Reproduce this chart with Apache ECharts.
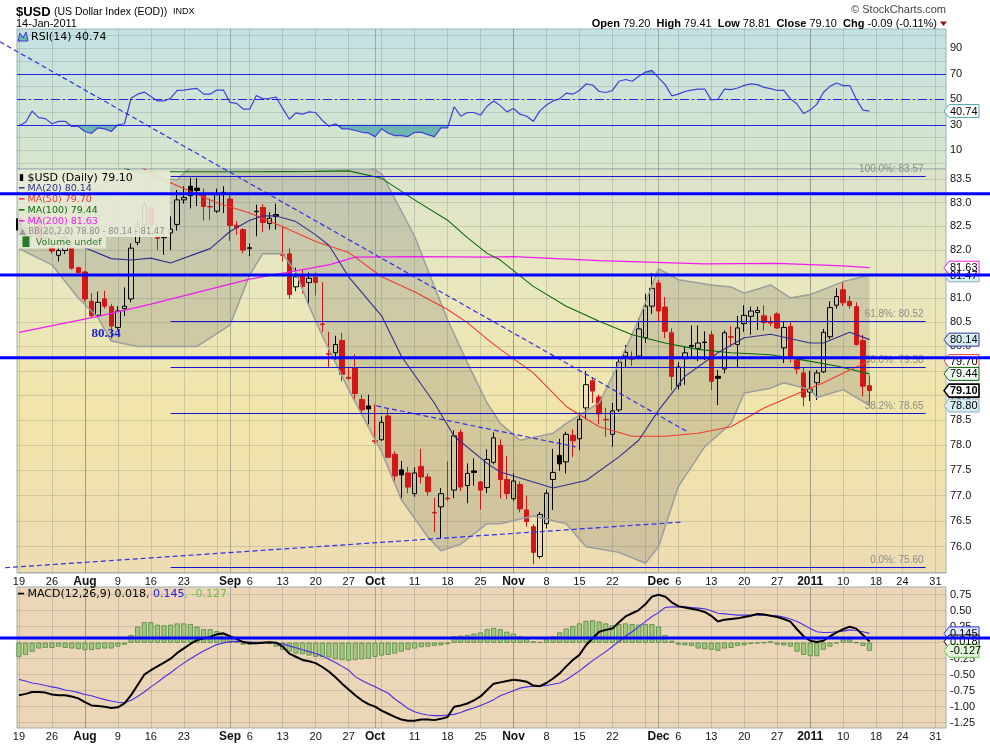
<!DOCTYPE html>
<html>
<head>
<meta charset="utf-8">
<title>$USD US Dollar Index</title>
<script src="https://cdn.jsdelivr.net/npm/echarts@6.0.0/dist/echarts.min.js"></script>
<style>
html, body { margin: 0; padding: 0; background: #ffffff; }
#chart { width: 990px; height: 744px; }
</style>
</head>
<body>
<div id="chart"></div>
<script>
// trading calendar (weekdays, the MLK holiday is skipped in the projected area)
var holidays = ['2011-01-17'];
var days = [];
(function () {
    var d = new Date(Date.UTC(2010, 6, 19));
    while (days.length < 142) {
        var s = d.toISOString().slice(0, 10);
        var wd = d.getUTCDay();
        if (wd !== 0 && wd !== 6 && holidays.indexOf(s) < 0) {
            days.push(s);
        }
        d.setUTCDate(d.getUTCDate() + 1);
    }
})();

var tickDates = ['2010-07-19', '2010-07-26', '2010-08-02', '2010-08-09', '2010-08-16', '2010-08-23',
    '2010-09-01', '2010-09-06', '2010-09-13', '2010-09-20', '2010-09-27', '2010-10-01', '2010-10-11',
    '2010-10-18', '2010-10-25', '2010-11-01', '2010-11-08', '2010-11-15', '2010-11-22', '2010-12-01',
    '2010-12-06', '2010-12-13', '2010-12-20', '2010-12-27', '2011-01-03', '2011-01-10', '2011-01-18',
    '2011-01-24', '2011-01-31'];
var tickText = ['19', '26', 'Aug', '9', '16', '23', 'Sep', '6', '13', '20', '27', 'Oct', '11', '18', '25',
    'Nov', '8', '15', '22', 'Dec', '6', '13', '20', '27', '2011', '10', '18', '24', '31'];
var monthDates = ['2010-08-02', '2010-09-01', '2010-10-01', '2010-11-01', '2010-12-01', '2011-01-03'];

var priceGridTicks = [75.5, 76.0, 76.5, 77.0, 77.5, 78.0, 78.5, 79.0, 79.5, 80.0, 80.5, 81.0, 81.5, 82.0, 82.5, 83.0, 83.5];
var priceLabelTicks = [76.0, 76.5, 77.0, 77.5, 78.0, 78.5, 79.0, 79.5, 80.0, 80.5, 81.0, 81.5, 82.0, 82.5, 83.0, 83.5];
var rsiGridTicks = [0, 10, 20, 30, 40, 50, 60, 70, 80, 90, 100];
var rsiLabelTicks = [10, 30, 50, 70, 90];
var macdTicks = [-1.25, -1.0, -0.75, -0.5, -0.25, 0, 0.25, 0.5, 0.75];

// daily OHLC, 19-Jul-2010 .. 14-Jan-2011
var opens = [82.66, 82.42, 82.30, 82.72, 82.25, 82.06, 81.89, 81.99, 82.06, 81.63,
    81.54, 80.93, 80.64, 80.98, 80.82, 80.39, 80.78, 80.98, 82.16, 82.53,
    82.89, 82.26, 82.26, 82.36, 82.54, 83.06, 83.35, 83.31, 83.20, 82.92,
    82.82, 83.20, 83.08, 82.52, 82.43, 82.03, 82.81, 82.90, 82.56, 82.75,
    81.91, 81.92, 81.23, 81.47, 81.32, 81.43, 80.46, 79.85, 79.87, 80.12,
    79.37, 79.56, 78.92, 78.79, 78.09, 78.11, 78.59, 77.82, 77.51, 77.45,
    77.04, 77.58, 77.37, 76.67, 76.78, 76.95, 77.11, 78.26, 77.20, 77.49,
    77.27, 77.16, 77.66, 78.00, 77.32, 76.94, 77.22, 76.72, 76.39, 75.81,
    76.45, 77.32, 77.80, 77.67, 78.20, 78.13, 78.75, 79.30, 78.97, 78.52,
    78.22, 78.71, 79.80, 79.75, 79.80, 80.18, 80.83, 81.31, 80.81, 80.28,
    79.20, 79.75, 80.02, 79.96, 80.09, 80.24, 79.39, 79.54, 80.20, 80.04,
    80.47, 80.62, 80.70, 80.63, 80.51, 80.67, 79.97, 80.41, 79.72, 79.46,
    79.07, 79.26, 79.48, 80.20, 80.85, 81.17, 80.93, 80.82, 80.12, 79.20];
var highs = [82.90, 82.55, 82.85, 82.78, 82.50, 82.39, 82.14, 82.41, 82.14, 81.65,
    81.56, 81.10, 81.13, 81.15, 80.88, 80.83, 81.22, 82.14, 82.64, 83.03,
    82.98, 82.29, 82.36, 82.71, 83.27, 83.35, 83.53, 83.53, 83.30, 83.09,
    83.30, 83.35, 83.20, 82.61, 82.46, 82.14, 82.96, 82.97, 82.80, 82.98,
    82.49, 82.04, 81.63, 81.60, 81.53, 81.53, 81.33, 80.30, 80.22, 80.28,
    79.59, 79.84, 79.02, 79.02, 78.82, 78.58, 78.72, 77.88, 77.69, 77.57,
    77.56, 77.93, 77.44, 76.96, 77.15, 77.68, 78.30, 78.32, 77.64, 77.74,
    77.29, 77.92, 78.26, 78.12, 77.79, 77.44, 77.28, 77.00, 76.44, 76.68,
    77.12, 77.93, 78.13, 78.27, 78.32, 78.66, 79.50, 79.37, 79.02, 78.75,
    78.85, 79.78, 80.03, 79.90, 80.58, 81.09, 81.52, 81.37, 81.02, 80.37,
    79.68, 80.01, 80.43, 80.43, 80.31, 80.32, 79.52, 80.33, 80.42, 80.63,
    80.85, 80.82, 80.82, 80.85, 80.62, 80.70, 80.50, 80.50, 79.77, 79.58,
    79.50, 79.52, 80.36, 80.93, 81.20, 81.33, 81.04, 80.91, 80.24, 79.41];
var lows = [82.30, 82.15, 82.22, 82.15, 82.10, 81.92, 81.76, 81.92, 81.59, 81.51,
    80.92, 80.60, 80.60, 80.78, 80.16, 80.35, 80.63, 80.91, 82.10, 82.36,
    82.45, 82.00, 81.90, 82.00, 82.41, 82.98, 82.88, 82.93, 82.62, 82.63,
    82.78, 82.78, 82.19, 82.32, 81.93, 81.87, 82.29, 82.38, 82.43, 82.43,
    81.76, 80.98, 81.14, 81.09, 80.87, 81.05, 80.29, 79.58, 79.73, 79.29,
    79.31, 78.90, 78.62, 78.42, 78.03, 78.09, 77.75, 77.29, 76.95, 77.05,
    76.98, 77.24, 77.00, 76.28, 76.16, 76.90, 76.95, 77.09, 76.85, 77.20,
    76.72, 77.05, 77.62, 76.95, 76.93, 76.90, 76.67, 76.39, 75.66, 75.77,
    76.36, 76.72, 77.49, 77.44, 77.77, 77.90, 78.52, 78.85, 78.42, 78.17,
    77.97, 78.67, 79.57, 79.60, 79.74, 80.07, 80.67, 80.52, 80.17, 79.10,
    79.12, 79.22, 79.76, 79.70, 79.72, 79.11, 78.81, 79.45, 80.00, 79.56,
    80.30, 80.24, 80.34, 80.33, 80.42, 80.36, 79.66, 79.67, 79.43, 78.78,
    78.89, 78.91, 79.46, 80.15, 80.78, 80.83, 80.78, 80.02, 78.98, 78.81];
var closes = [82.42, 82.30, 82.72, 82.25, 82.40, 81.98, 81.99, 82.26, 81.62, 81.53,
    80.98, 80.63, 80.91, 80.83, 80.42, 80.73, 80.83, 82.04, 82.51, 82.96,
    82.53, 82.25, 82.27, 82.44, 83.06, 83.11, 83.15, 83.26, 82.92, 82.91,
    83.17, 83.22, 82.52, 82.47, 82.00, 82.05, 82.82, 82.58, 82.67, 82.71,
    81.89, 81.07, 81.44, 81.24, 81.41, 81.32, 80.45, 79.84, 80.04, 79.43,
    79.35, 79.04, 78.71, 78.73, 78.08, 78.46, 77.76, 77.39, 77.41, 77.17,
    77.45, 77.37, 77.08, 76.66, 77.04, 76.94, 78.19, 77.17, 77.44, 77.46,
    77.11, 77.72, 78.15, 77.32, 77.04, 77.29, 76.74, 76.49, 75.89, 76.63,
    77.05, 77.46, 77.63, 78.22, 78.09, 78.52, 79.22, 79.09, 78.63, 78.51,
    78.69, 79.68, 79.88, 79.74, 80.36, 80.83, 81.20, 80.73, 80.31, 79.39,
    79.58, 79.87, 80.00, 80.07, 80.08, 79.29, 79.35, 80.28, 80.19, 80.38,
    80.64, 80.73, 80.74, 80.49, 80.48, 80.38, 80.39, 79.77, 79.54, 78.97,
    79.13, 79.46, 80.29, 80.80, 81.03, 80.90, 80.84, 80.04, 79.19, 79.10];

// overlays as [day index, value]
var ma20 = [[0, 82.50], [5, 82.35], [10, 82.05], [14, 81.82], [17, 81.79], [20, 81.83], [23, 81.73], [27, 81.93],
    [29, 82.03], [32, 82.39], [35, 82.63], [37, 82.72], [39, 82.72], [42, 82.60], [45, 82.32], [47, 82.10],
    [50, 81.44], [55, 80.63], [58, 79.80], [63, 78.85], [66, 78.18], [71, 77.64], [73, 77.47], [81, 77.15],
    [86, 77.30], [91, 77.77], [94, 78.10], [97, 78.70], [101, 79.39], [106, 79.87], [110, 80.18], [114, 80.25],
    [120, 80.07], [122, 80.07], [126, 80.29], [129, 80.14]];
var ma50 = [[0, 85.30], [10, 84.60], [19, 83.72], [21, 83.55], [27, 83.18], [30, 83.00], [35, 82.78], [40, 82.49],
    [45, 82.18], [50, 81.95], [55, 81.44], [60, 81.13], [65, 80.76], [68, 80.49], [71, 80.15], [73, 79.94],
    [78, 79.46], [83, 78.78], [88, 78.37], [93, 78.18], [98, 78.18], [103, 78.24], [108, 78.37], [113, 78.75],
    [119, 79.09], [122, 79.26], [126, 79.52], [129, 79.70]];
var ma100 = [[0, 84.60], [8, 84.10], [15, 83.80], [17, 83.68], [24, 83.66], [35, 83.66], [45, 83.67], [50, 83.68],
    [55, 83.52], [60, 83.06], [65, 82.63], [68, 82.26], [71, 81.93], [73, 81.79], [78, 81.24], [83, 80.83],
    [88, 80.52], [93, 80.24], [98, 80.07], [103, 79.94], [108, 79.87], [114, 79.83], [119, 79.72], [124, 79.60],
    [129, 79.44]];
var ma200 = [[0, 80.29], [12, 80.62], [20, 80.87], [35, 81.39], [47, 81.69], [51, 81.85], [60, 81.86], [71, 81.85],
    [75, 81.86], [88, 81.78], [104, 81.71], [115, 81.72], [125, 81.67], [129, 81.63]];
var bbUpper = [[0, 82.98], [5, 83.03], [10, 83.18], [14, 83.48], [18, 83.61], [20, 83.69], [22, 83.51], [24, 83.49],
    [27, 83.90], [32, 84.30], [36, 83.78], [40, 83.80], [44, 83.85], [48, 83.90], [52, 83.85], [55, 83.62],
    [60, 82.29], [63, 81.24], [65, 80.55], [68, 79.67], [71, 78.85], [73, 78.44], [76, 78.10], [81, 78.24],
    [83, 78.44], [88, 78.85], [91, 79.66], [94, 80.55], [97, 81.61], [100, 81.38], [105, 81.27], [108, 81.23],
    [110, 81.10], [114, 81.27], [117, 81.00], [120, 81.07], [125, 81.34], [129, 81.47]];
var bbLower = [[0, 82.03], [5, 81.69], [9, 81.00], [12, 80.59], [14, 80.11], [18, 80.00], [27, 80.00], [32, 80.44],
    [35, 81.48], [37, 81.93], [40, 81.92], [42, 81.53], [44, 80.83], [46, 80.22], [50, 79.12], [55, 77.87],
    [58, 76.92], [62, 76.19], [64, 75.92], [67, 76.05], [71, 76.45], [73, 76.45], [78, 76.60], [83, 76.45],
    [86, 76.00], [91, 75.89], [95, 75.68], [97, 76.00], [100, 77.18], [104, 77.97], [108, 78.44], [110, 79.05],
    [114, 79.15], [116, 79.26], [120, 79.12], [121, 78.96], [125, 79.12], [129, 78.80]];

var rsi = [29.2, 32, 40.7, 35.6, 34.8, 30.8, 32.7, 32.7, 28.7, 28.7,
    24.7, 23.3, 27.6, 26.8, 24.7, 30, 30.8, 50.8, 54, 55.6,
    52.1, 48.7, 48.7, 50.8, 56.9, 57.2, 58, 58.5, 54, 54,
    57.2, 57.2, 47.6, 46.8, 42.3, 42.3, 52.9, 50.3, 50.8, 51.6,
    42.8, 34.3, 39.3, 38.3, 40.1, 39.6, 33.5, 28.7, 30.8, 26.8,
    26.8, 25.5, 24.1, 23.6, 20.7, 26.8, 23.3, 21.5, 21.5, 20.7,
    24.1, 24.1, 22.3, 20.7, 27.6, 27.6, 44.1, 36.7, 39.6, 39.6,
    37.5, 44.7, 48.7, 45, 40.1, 42.8, 38.3, 36.7, 32.7, 40.9,
    45.5, 48.7, 50.3, 54.8, 54, 56.9, 62, 61.2, 56.1, 55.3,
    56.9, 64.1, 65.5, 64.1, 68.1, 71.3, 72.7, 66.8, 61.5, 52.7,
    54, 56.1, 57.2, 58, 58, 49.5, 50, 58, 57.5, 58.8,
    60.9, 62, 61.5, 59.3, 58.3, 56.9, 56.9, 50.3, 46.3, 38.8,
    41.5, 46, 55.3, 60.1, 62.8, 60.7, 60.7, 50, 41.5, 40.74];

var macd = [-0.82, -0.80, -0.77, -0.77, -0.78, -0.81, -0.82, -0.82, -0.84, -0.87,
    -0.93, -0.98, -0.99, -1.00, -1.02, -1.01, -0.95, -0.82, -0.66, -0.50,
    -0.43, -0.37, -0.31, -0.25, -0.16, -0.09, -0.02, 0.04, 0.07, 0.09,
    0.13, 0.146, 0.10, 0.06, 0.01, -0.01, -0.01, 0.00, 0.005, 0.00,
    -0.06, -0.17, -0.22, -0.27, -0.29, -0.32, -0.38, -0.45, -0.54, -0.64,
    -0.73, -0.82, -0.90, -0.96, -1.00, -1.06, -1.11, -1.16, -1.20, -1.22,
    -1.22, -1.20, -1.20, -1.21, -1.19, -1.16, -1.00, -0.98, -0.95, -0.90,
    -0.84, -0.74, -0.64, -0.62, -0.60, -0.58, -0.59, -0.61, -0.67, -0.68,
    -0.63, -0.56, -0.48, -0.37, -0.27, -0.19, -0.04, 0.07, 0.17, 0.20,
    0.22, 0.32, 0.41, 0.46, 0.51, 0.60, 0.72, 0.75, 0.72, 0.63,
    0.57, 0.55, 0.53, 0.51, 0.48, 0.42, 0.33, 0.36, 0.37, 0.38,
    0.40, 0.42, 0.45, 0.44, 0.42, 0.40, 0.37, 0.33, 0.21, 0.10,
    0.03, 0.01, 0.03, 0.10, 0.16, 0.21, 0.25, 0.22, 0.12, 0.018];
var signal = [-0.575, -0.60, -0.63, -0.645, -0.67, -0.69, -0.71, -0.74, -0.755, -0.78,
    -0.81, -0.83, -0.86, -0.89, -0.91, -0.93, -0.94, -0.90, -0.84, -0.77,
    -0.69, -0.62, -0.54, -0.47, -0.39, -0.32, -0.25, -0.19, -0.13, -0.08,
    -0.03, -0.005, 0.016, 0.02, 0.015, 0.01, 0.005, 0.005, 0.005, 0.00,
    -0.02, -0.05, -0.08, -0.11, -0.14, -0.17, -0.21, -0.26, -0.31, -0.37,
    -0.43, -0.53, -0.59, -0.64, -0.69, -0.74, -0.79, -0.88, -0.95, -1.03,
    -1.08, -1.11, -1.13, -1.14, -1.14, -1.13, -1.12, -1.09, -1.05, -1.02,
    -0.98, -0.94, -0.89, -0.83, -0.79, -0.75, -0.71, -0.69, -0.68, -0.68,
    -0.67, -0.65, -0.63, -0.58, -0.51, -0.44, -0.36, -0.28, -0.21, -0.14,
    -0.06, 0.02, 0.10, 0.17, 0.25, 0.33, 0.41, 0.47, 0.55, 0.56,
    0.56, 0.56, 0.55, 0.54, 0.53, 0.50, 0.46, 0.45, 0.44, 0.43,
    0.43, 0.43, 0.43, 0.43, 0.42, 0.42, 0.40, 0.37, 0.33, 0.28,
    0.22, 0.17, 0.16, 0.16, 0.17, 0.18, 0.20, 0.19, 0.17, 0.145];
var hist = [-0.22, -0.19, -0.14, -0.09, -0.08, -0.08, -0.06, -0.08, -0.09, -0.10,
    -0.115, -0.115, -0.10, -0.09, -0.09, -0.06, -0.03, 0.12, 0.25, 0.32,
    0.32, 0.28, 0.27, 0.28, 0.30, 0.30, 0.29, 0.25, 0.21, 0.21,
    0.18, 0.15, 0.08, 0.03, -0.03, -0.03, -0.02, -0.01, -0.02, -0.06,
    -0.11, -0.14, -0.17, -0.18, -0.20, -0.22, -0.22, -0.23, -0.26, -0.27,
    -0.28, -0.27, -0.26, -0.25, -0.22, -0.20, -0.19, -0.17, -0.14, -0.11,
    -0.09, -0.07, -0.06, -0.05, -0.04, -0.02, 0.10, 0.11, 0.12, 0.14,
    0.16, 0.21, 0.23, 0.21, 0.17, 0.14, 0.10, 0.06, 0.02, 0.01,
    0.05, 0.10, 0.16, 0.22, 0.26, 0.30, 0.34, 0.35, 0.33, 0.30,
    0.27, 0.29, 0.30, 0.29, 0.28, 0.29, 0.29, 0.25, 0.12, 0.03,
    -0.03, -0.04, -0.05, -0.09, -0.10, -0.11, -0.125, -0.09, -0.08, -0.05,
    -0.04, -0.02, -0.01, 0.00, 0.02, -0.03, -0.04, -0.06, -0.14, -0.19,
    -0.21, -0.21, -0.11, -0.06, -0.01, 0.05, 0.05, 0.00, -0.05, -0.127];

// drawn annotations
var fibLevels = [83.57, 80.52, 79.58, 78.65, 75.60];
var fibNames = ['100.0%', '61.8%', '50.0%', '38.2%', '0.0%'];
var fibSpan = [23, 137.5];
var priceLevels = [83.19, 81.48, 79.77];
var macdLevels = [0.073];
var trendLines = [
    {from: [31.5, 83.69], to: [101.4, 78.27], leftX: 0},
    {from: [54.2, 78.79], to: [84.4, 77.97], leftX: null},
    {from: [0, 75.61], to: [100.4, 76.48], leftX: 5}
];
var lowNote = [13.2, 80.34];

var FONT = '"Liberation Sans", Arial, sans-serif';
var SANS = '"DejaVu Sans", Verdana, sans-serif';
var X_MIN = -0.3, X_MAX = 140.6;

var tickLabel = {};
tickDates.forEach(function (s, n) {
    tickLabel[days.indexOf(s)] = tickText[n];
});
var tickIdx = tickDates.map(function (s) { return days.indexOf(s); });
var monthIdx = monthDates.map(function (s) { return days.indexOf(s); });
var weekIdx = [];
days.forEach(function (s, k) {
    if (k === 0 || new Date(s).getUTCDay() <= new Date(days[k - 1]).getUTCDay()) {
        weekIdx.push(k);
    }
});

function last(a) {
    var v = a[a.length - 1];
    return Array.isArray(v) ? v[1] : v;
}

var candleData = closes.map(function (c, i) {
    var o = opens[i];
    var col = (i === 0 || c >= closes[i - 1]) ? '#000000' : '#d01818';
    var fill = c > o ? 'rgba(0,0,0,0)' : col;
    return {
        value: [i, o, c, lows[i], highs[i]],
        itemStyle: {color: fill, color0: fill, borderColor: col, borderColor0: col}
    };
});

function xLabelFmt(v) {
    var t = tickLabel[Math.round(v)];
    if (t === undefined) return '';
    return /^[A-Z]|^2011/.test(t) ? '{b|' + t + '}' : t;
}

function weekAxis(grid, labels) {
    return {
        gridIndex: grid, type: 'value', min: X_MIN, max: X_MAX, position: 'bottom',
        axisLine: {show: false},
        axisTick: {show: false, customValues: weekIdx},
        axisLabel: labels ? {
            customValues: tickIdx, formatter: xLabelFmt, margin: 3,
            color: '#111', fontSize: 11, fontFamily: FONT,
            rich: {b: {fontWeight: 'bold', fontSize: 12, fontFamily: FONT, color: '#111'}}
        } : {show: false},
        splitLine: {show: true, lineStyle: {color: 'rgba(110,125,115,0.28)', width: 1}}
    };
}

function monthAxis(grid) {
    return {
        gridIndex: grid, type: 'value', min: X_MIN, max: X_MAX, position: 'top',
        axisLine: {show: false},
        axisTick: {show: false, customValues: monthIdx},
        axisLabel: {show: false},
        splitLine: {show: true, lineStyle: {color: 'rgba(95,110,100,0.45)', width: 1}}
    };
}

var yLabel = {color: '#111', fontSize: 11, fontFamily: FONT, margin: 4};
var hGrid = {show: true, lineStyle: {color: 'rgba(110,125,115,0.25)', width: 1}};

function lineSeries(name, data, color, width, xi) {
    return {
        name: name, type: 'line', xAxisIndex: xi, yAxisIndex: xi, data: data,
        showSymbol: false, symbol: 'none', silent: true, clip: true,
        lineStyle: {color: color, width: width}
    };
}

function rsiZones(params, api) {
    var children = [];
    [[30, -1], [70, 1]].forEach(function (z) {
        var lvl = z[0], dir = z[1], poly = null;
        for (var i = 0; i < rsi.length; i++) {
            var v = rsi[i];
            var out = dir < 0 ? v < lvl : v > lvl;
            if (i > 0) {
                var pv = rsi[i - 1];
                var pout = dir < 0 ? pv < lvl : pv > lvl;
                if (out !== pout) {
                    var cross = api.coord([i - 1 + (lvl - pv) / (v - pv), lvl]);
                    if (poly) {
                        poly.push(cross);
                        children.push(poly);
                        poly = null;
                    } else {
                        poly = [cross];
                    }
                }
            }
            if (out) {
                if (!poly) poly = [api.coord([i, lvl])];
                poly.push(api.coord([i, v]));
            }
        }
        if (poly) {
            poly.push(api.coord([rsi.length - 1, lvl]));
            children.push(poly);
        }
    });
    return {
        type: 'group',
        children: children.map(function (pts) {
            return {type: 'polygon', shape: {points: pts}, style: {fill: '#6db5b2'}};
        })
    };
}

function bandPolygon(params, api) {
    var pts = bbUpper.map(function (p) { return api.coord(p); });
    for (var k = bbLower.length - 1; k >= 0; k--) {
        pts.push(api.coord(bbLower[k]));
    }
    return {type: 'polygon', shape: {points: pts}, style: {fill: 'rgba(100,100,96,0.22)'}};
}

var chart = echarts.init(document.getElementById('chart'));

chart.setOption({
    animation: false,
    backgroundColor: '#ffffff',
    grid: [
        {left: 17, width: 929, top: 29, height: 140, show: true, borderColor: '#9db0b4', borderWidth: 1,
            backgroundColor: new echarts.graphic.LinearGradient(0, 0, 0, 1, [
                {offset: 0, color: '#c4e2e3'}, {offset: 1, color: '#d8e6cc'}])},
        {left: 17, width: 929, top: 169, height: 404, show: true, borderColor: '#9db0b4', borderWidth: 1,
            backgroundColor: new echarts.graphic.LinearGradient(0, 0, 0, 1, [
                {offset: 0, color: '#dce3cb'}, {offset: 0.3, color: '#e9e7bd'},
                {offset: 0.6, color: '#f1e5aa'}, {offset: 1, color: '#eedcb3'}])},
        {left: 17, width: 929, top: 587, height: 141, show: true, borderColor: '#9db0b4', borderWidth: 1,
            backgroundColor: '#ecd6b8'}
    ],
    xAxis: [weekAxis(0, false), weekAxis(1, true), weekAxis(2, true), monthAxis(0), monthAxis(1), monthAxis(2)],
    yAxis: [
        {gridIndex: 0, type: 'value', position: 'right', min: -4.7, max: 105.1,
            axisLine: {show: false}, axisTick: {show: false, customValues: rsiGridTicks},
            axisLabel: Object.assign({customValues: rsiLabelTicks}, yLabel), splitLine: hGrid},
        {gridIndex: 1, type: 'log', logBase: 10, position: 'right', min: 75.49, max: 83.72,
            axisLine: {show: false}, axisTick: {show: false, customValues: priceGridTicks},
            axisLabel: Object.assign({customValues: priceLabelTicks, formatter: function (v) { return v.toFixed(1); }}, yLabel),
            splitLine: hGrid},
        {gridIndex: 2, type: 'value', position: 'right', min: -1.333, max: 0.87,
            axisLine: {show: false}, axisTick: {show: false, customValues: macdTicks},
            axisLabel: Object.assign({customValues: macdTicks, formatter: function (v) { return v.toFixed(2); }}, yLabel),
            splitLine: hGrid}
    ],
    series: [
        // RSI
        {type: 'custom', xAxisIndex: 0, yAxisIndex: 0, data: [[0, 50]], renderItem: rsiZones, clip: true, silent: true},
        {type: 'line', xAxisIndex: 0, yAxisIndex: 0, data: rsi.map(function (v, i) { return [i, v]; }),
            showSymbol: false, symbol: 'none', silent: true, lineStyle: {color: '#4040d8', width: 1.2},
            markLine: {
                silent: true, symbol: 'none', label: {show: false}, animation: false,
                lineStyle: {color: '#2626e0', width: 1, type: 'solid'},
                data: [{yAxis: 70}, {yAxis: 30}, {yAxis: 50, lineStyle: {type: [9, 3, 2, 3], color: '#2626e0'}}]
            }},
        // price
        {type: 'custom', xAxisIndex: 1, yAxisIndex: 1, data: [[0, 80]], renderItem: bandPolygon, clip: true, silent: true},
        lineSeries('BB upper', bbUpper, '#9a9e9e', 1.5, 1),
        lineSeries('BB lower', bbLower, '#9a9e9e', 1.5, 1),
        {type: 'candlestick', xAxisIndex: 1, yAxisIndex: 1, data: candleData, encode: {x: 0, y: [1, 2, 3, 4]},
            barWidth: 5, clip: true, silent: true, itemStyle: {borderWidth: 1}},
        lineSeries('MA(200)', ma200, '#f21cf2', 1.3, 1),
        lineSeries('MA(100)', ma100, '#0b6b0b', 1.1, 1),
        lineSeries('MA(50)', ma50, '#f23a2e', 1.1, 1),
        lineSeries('MA(20)', ma20, '#30308c', 1.1, 1),
        {type: 'line', xAxisIndex: 1, yAxisIndex: 1, data: [[fibSpan[0], fibLevels[0]]], symbol: 'none',
            showSymbol: false, silent: true, lineStyle: {width: 0},
            markLine: {
                silent: true, symbol: 'none', animation: false,
                lineStyle: {color: '#1414d2', width: 1, type: 'solid'},
                label: {show: true, position: 'insideEndTop', color: '#8c8c8c', fontSize: 10, fontFamily: FONT, distance: 2},
                data: fibLevels.map(function (lv, n) {
                    return [{coord: [fibSpan[0], lv], label: {formatter: fibNames[n] + ': ' + lv.toFixed(2)}},
                        {coord: [fibSpan[1], lv]}];
                })
            },
            markPoint: {
                silent: true, animation: false, symbol: 'circle', symbolSize: 1,
                itemStyle: {color: 'rgba(0,0,0,0)'},
                label: {show: true, position: 'inside', offset: [0, 4], color: '#1c1cd0', fontWeight: 'bold',
                    fontSize: 13, fontFamily: '"Liberation Serif", "Times New Roman", serif',
                    formatter: lowNote[1].toFixed(2)},
                data: [{coord: lowNote}]
            }},
        // MACD
        {type: 'bar', xAxisIndex: 2, yAxisIndex: 2, data: hist.map(function (v, i) { return [i, v]; }),
            barWidth: 5, silent: true, itemStyle: {color: '#9cca7c', borderColor: '#4a7a3a', borderWidth: 0.7}},
        {type: 'line', xAxisIndex: 2, yAxisIndex: 2, data: signal.map(function (v, i) { return [i, v]; }),
            showSymbol: false, symbol: 'none', silent: true, lineStyle: {color: '#4a2ee0', width: 1.1}},
        {type: 'line', xAxisIndex: 2, yAxisIndex: 2, data: macd.map(function (v, i) { return [i, v]; }),
            showSymbol: false, symbol: 'none', silent: true, lineStyle: {color: '#000000', width: 2}}
    ]
});

// ---- overlay drawing: header, legends, annotation lines, value flags ----
var g = [];

function text(x, y, str, font, fill, align, extra) {
    var st = {x: x, y: y, text: str, font: font, fill: fill || '#000', align: align || 'left', verticalAlign: 'middle'};
    if (extra) Object.assign(st, extra);
    return {type: 'text', z: 100, silent: true, style: st};
}

g.push(text(16, 12, '$USD', 'bold 13px ' + FONT));
g.push(text(54, 12, '(US Dollar Index (EOD))', '10.5px ' + FONT));
g.push(text(173, 12, 'INDX', '9px ' + FONT));
g.push(text(16, 24, '14-Jan-2011', '11px ' + FONT));
g.push(text(946, 10, '\u00a9 StockCharts.com', '11px ' + FONT, '#444', 'right'));
g.push(text(937, 24,
    '{b|Open} ' + opens[129].toFixed(2) + '  {b|High} ' + highs[129].toFixed(2) + '  {b|Low} ' + lows[129].toFixed(2) +
    '  {b|Close} ' + closes[129].toFixed(2) + '  {b|Chg} ' + (closes[129] - closes[128]).toFixed(2) +
    ' (' + ((closes[129] - closes[128]) / closes[128] * 100).toFixed(2) + '%)',
    '11px ' + FONT, '#000', 'right',
    {rich: {b: {fontWeight: 'bold', fontSize: 11, fontFamily: FONT, fill: '#000'}}}));
g.push({type: 'polygon', z: 100, silent: true, shape: {points: [[940, 21.5], [947, 21.5], [943.5, 26]]}, style: {fill: '#9b1010'}});

// RSI legend
g.push({type: 'polygon', z: 100, silent: true, shape: {points: [[18, 41], [20, 33], [23, 38], [26, 32], [28, 41]]},
    style: {fill: '#6db5b2', stroke: '#3a3ad0', lineWidth: 1}});
g.push(text(31, 37, 'RSI(14) ' + last(rsi).toFixed(2), '11px ' + SANS));

// price legend with its backing box
g.push({type: 'polygon', z: 99, silent: true,
    shape: {points: [[18, 170], [170, 170], [170, 237], [106, 237], [106, 248.5], [18, 248.5]]},
    style: {fill: 'rgba(231,235,214,0.9)'}});
var legendRows = [
    ['\u25ae', '#000', '$USD (Daily) ' + last(closes).toFixed(2), '#000', 11],
    ['\u2501', '#30308c', 'MA(20) ' + last(ma20).toFixed(2), '#30308c', 9.5],
    ['\u2501', '#f23a2e', 'MA(50) ' + last(ma50).toFixed(2), '#f23a2e', 9.5],
    ['\u2501', '#0b6b0b', 'MA(100) ' + last(ma100).toFixed(2), '#0b6b0b', 9.5],
    ['\u2501', '#f21cf2', 'MA(200) ' + last(ma200).toFixed(2), '#f21cf2', 9.5],
    ['\u25b2', '#9a9e9e', 'BB(20,2.0) ' + last(bbLower).toFixed(2) + ' - ' + last(ma20).toFixed(2) + ' - ' + last(bbUpper).toFixed(2), '#8c8c8c', 8.4],
    ['\u2590\u258c', '#2a7a2a', 'Volume undef', '#2a7a2a', 9.5]
];
legendRows.forEach(function (r, k) {
    var y = 178 + 10.8 * k;
    g.push(text(19, y, '{i|' + r[0] + '} ' + r[2], r[4] + 'px ' + SANS, r[3], 'left', {
        rich: {i: {fill: r[1], fontSize: 9, fontFamily: SANS}}
    }));
});

// MACD legend
g.push(text(18, 594.5, '{k|\u2501} {t|MACD(12,26,9) ' + last(macd).toFixed(3) + '}{s|, ' + last(signal).toFixed(3) + '}{h|, ' + last(hist).toFixed(3) + '}',
    '11px ' + SANS, '#000', 'left', {
        rich: {k: {fill: '#000', fontSize: 10}, t: {fill: '#000', fontSize: 11, fontFamily: SANS},
            s: {fill: '#2020e8', fontSize: 11, fontFamily: SANS}, h: {fill: '#6cc04a', fontSize: 11, fontFamily: SANS}}
    }));

// dashed trend lines, in price coordinates
trendLines.forEach(function (t) {
    var a = chart.convertToPixel({xAxisIndex: 1, yAxisIndex: 1}, t.from);
    var b = chart.convertToPixel({xAxisIndex: 1, yAxisIndex: 1}, t.to);
    if (t.leftX !== null) {
        var k = (b[1] - a[1]) / (b[0] - a[0]);
        a = [t.leftX, a[1] + (t.leftX - a[0]) * k];
    }
    g.push({type: 'line', z: 95, silent: true, shape: {x1: a[0], y1: a[1], x2: b[0], y2: b[1]},
        style: {stroke: '#3030e6', lineWidth: 1.2, lineDash: [5, 3]}});
});

// value flags on the right edge
function flag(y, str, stroke, fill, bold) {
    var x = 944, w = 35, h = 13;
    g.push({type: 'polygon', z: 110, silent: true,
        shape: {points: [[x, y], [x + 5, y - h / 2], [x + w, y - h / 2], [x + w, y + h / 2], [x + 5, y + h / 2]]},
        style: {fill: fill, stroke: stroke, lineWidth: bold ? 1.6 : 1}});
    g.push({type: 'text', z: 111, silent: true,
        style: {x: x + 6, y: y + 0.5, text: str, fill: '#000', font: (bold ? 'bold ' : '') + '11px ' + FONT, verticalAlign: 'middle'}});
}
function py(v) { return chart.convertToPixel({yAxisIndex: 1}, v); }
flag(py(last(bbUpper)), last(bbUpper).toFixed(2), '#8ea8b8', '#d6eef6');
flag(py(last(ma200)), last(ma200).toFixed(2), '#f21cf2', '#ffffff');
flag(py(last(ma20)), last(ma20).toFixed(2), '#30308c', '#d6eef6');
flag(py(last(ma50)), last(ma50).toFixed(2), '#f23a2e', '#ffffff');
flag(py(last(ma100)), last(ma100).toFixed(2), '#0b6b0b', '#eef8ee');
flag(py(last(bbLower)), last(bbLower).toFixed(2), '#8ea8b8', '#d6eef6');
flag(py(last(closes)), last(closes).toFixed(2), '#000000', '#ffffff', true);
flag(chart.convertToPixel({yAxisIndex: 0}, last(rsi)), last(rsi).toFixed(2), '#4fa8a8', '#ffffff');
var my = function (v) { return chart.convertToPixel({yAxisIndex: 2}, v); };
flag(my(last(signal)), last(signal).toFixed(3), '#2f2fe8', '#dde9ff');
flag(my(last(macd)), last(macd).toFixed(3), '#000000', '#ffffff');
flag(my(last(hist)), last(hist).toFixed(3), '#74c45a', '#e2f6da');

// thick horizontal levels drawn across the whole page
priceLevels.forEach(function (v) {
    var y = py(v);
    g.push({type: 'line', z: 120, silent: true, shape: {x1: 0, y1: y, x2: 990, y2: y}, style: {stroke: '#0000ff', lineWidth: 3}});
});
macdLevels.forEach(function (v) {
    var y = my(v);
    g.push({type: 'line', z: 120, silent: true, shape: {x1: 0, y1: y, x2: 990, y2: y}, style: {stroke: '#0000ff', lineWidth: 3}});
});

chart.setOption({graphic: g});
</script>
</body>
</html>
